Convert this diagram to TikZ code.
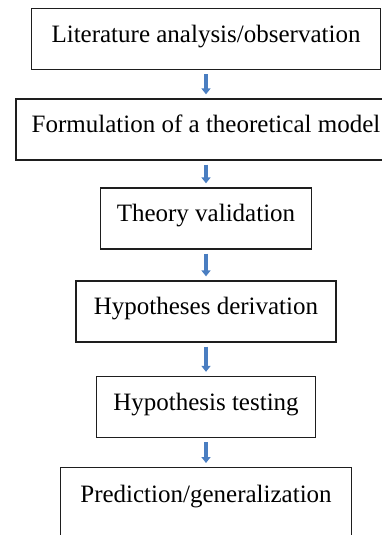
\documentclass[tikz,border=0pt]{standalone}
\usepackage{fontspec}
\setmainfont{Liberation Serif}
\usepackage{tikz}
\usetikzlibrary{arrows.meta}
\definecolor{arrowblue}{RGB}{74,126,193}
\definecolor{boxline}{RGB}{30,30,30}

\begin{document}
\begin{tikzpicture}[x=1pt, y=-1pt,
    every node/.style={font=\fontsize{25}{30}\selectfont},
    stagebox/.style={draw=boxline, line width=1.3pt, minimum height=61pt,
        inner sep=0pt, text height=0.66em, text depth=0pt},
    flowarrow/.style={draw=arrowblue, line width=4pt, shorten >=4pt, shorten <=4pt,
        -{Triangle[width=9pt, length=6pt]}}]
    \useasboundingbox (0,0) rectangle (382,535);
    % Stages of the research process
    \node[stagebox, minimum width=349pt] (lit) at (206,39) {Literature analysis/observation};
    \node[stagebox, minimum width=380pt] (model) at (206,129.5) {Formulation of a theoretical model};
    \node[stagebox, minimum width=211pt] (valid) at (206,218.5) {Theory validation};
    \node[stagebox, minimum width=260pt] (deriv) at (206,311.5) {Hypotheses derivation};
    \node[stagebox, minimum width=219pt] (test) at (206,407) {Hypothesis testing};
    \node[stagebox, minimum width=291pt, minimum height=80pt, text depth=17pt,
        anchor=north] (predict) at (206,467) {Prediction/generalization};
    % Arrows between stages
    \draw[flowarrow] (lit) -- (model);
    \draw[flowarrow] (model) -- (valid);
    \draw[flowarrow] (valid) -- (deriv);
    \draw[flowarrow] (deriv) -- (test);
    \draw[flowarrow] (test) -- (predict);
\end{tikzpicture}
\end{document}
